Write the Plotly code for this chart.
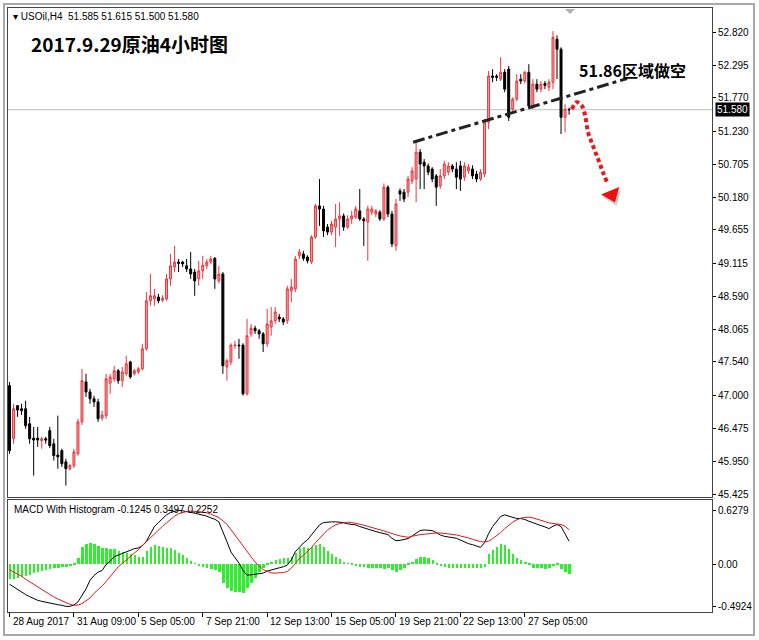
import plotly.graph_objects as go

W, H = 759, 640

# ---------------- data ----------------
opens = [47.16, 46.31, 46.84, 46.79, 46.79, 46.55, 46.32, 46.32, 46.28, 46.31,
         46.44, 46.23, 46.05, 46.12, 45.94, 45.83, 45.88, 46.07, 46.58, 47.22,
         47.06, 46.95, 46.90, 46.64, 46.68, 47.20, 47.27, 47.40, 47.24, 47.35,
         47.54, 47.35, 47.38, 47.43, 47.75, 48.52, 48.55, 48.58, 48.53, 48.55,
         48.87, 49.06, 49.14, 49.14, 49.08, 49.03, 48.98, 48.87, 49.00, 49.08,
         49.14, 49.20, 48.84, 48.95, 47.46, 47.54, 47.80, 47.81, 47.81, 47.03,
         47.99, 48.08, 48.04, 47.99, 47.83, 48.10, 48.20, 48.26, 48.23, 48.20,
         48.68, 48.71, 49.24, 49.27, 49.22, 49.14, 49.54, 50.04, 49.99, 49.70,
         49.62, 49.70, 49.83, 49.88, 49.70, 49.83, 49.86, 49.96, 49.83, 49.78,
         49.94, 49.91, 49.94, 49.83, 50.34, 49.91, 49.40, 50.28, 50.26, 50.26,
         50.44, 50.47, 50.90, 50.74, 50.68, 50.63, 50.52, 50.36, 50.52, 50.58,
         50.68, 50.63, 50.68, 50.50, 50.60, 50.63, 50.55, 50.47, 50.55, 51.38,
         52.12, 52.12, 52.07, 52.18, 52.23, 51.59, 51.75, 52.07, 52.04, 52.18,
         51.64, 51.99, 51.91, 52.00, 51.94, 52.02, 52.71, 52.55, 51.46, 51.585]
highs = [47.22, 46.87, 46.85, 46.87, 46.92, 46.66, 46.50, 46.50, 46.34, 46.34,
         46.50, 46.31, 46.68, 46.15, 45.99, 45.91, 46.15, 46.63, 47.43, 47.35,
         47.11, 47.00, 46.95, 46.76, 47.35, 47.35, 47.48, 47.43, 47.46, 47.64,
         47.56, 47.43, 47.46, 47.83, 48.66, 48.95, 48.71, 48.63, 48.61, 48.95,
         49.27, 49.40, 49.19, 49.16, 49.19, 49.30, 49.03, 49.16, 49.24, 49.19,
         49.24, 49.22, 49.08, 48.98, 47.59, 47.84, 47.88, 47.91, 47.84, 48.23,
         48.15, 48.12, 48.07, 48.02, 48.39, 48.42, 48.42, 48.31, 48.26, 48.76,
         48.87, 49.24, 49.35, 49.32, 49.25, 49.57, 50.07, 50.47, 50.04, 49.75,
         49.80, 50.07, 50.10, 49.92, 49.89, 49.96, 50.04, 50.31, 49.86, 50.04,
         50.04, 49.99, 49.97, 50.40, 50.37, 49.96, 50.15, 50.32, 50.31, 50.52,
         50.66, 51.06, 50.95, 50.79, 50.72, 50.66, 50.55, 50.63, 50.76, 50.74,
         50.71, 50.74, 50.76, 50.74, 50.71, 50.69, 50.60, 50.63, 51.43, 52.20,
         52.23, 52.15, 52.42, 52.23, 52.28, 51.78, 52.15, 52.15, 52.20, 52.31,
         52.07, 52.07, 52.04, 52.04, 52.07, 52.84, 52.77, 52.58, 51.67, 51.615]
lows = [46.07, 46.23, 46.66, 46.69, 46.47, 46.23, 45.72, 46.18, 46.15, 46.23,
        46.16, 45.96, 45.83, 45.86, 45.56, 45.80, 45.84, 46.04, 46.53, 46.98,
        46.87, 46.82, 46.58, 46.60, 46.63, 47.03, 47.22, 47.19, 47.14, 47.32,
        47.27, 47.32, 47.35, 47.40, 47.72, 48.44, 48.44, 48.48, 48.50, 48.52,
        48.76, 48.98, 48.98, 49.06, 48.98, 48.87, 48.60, 48.76, 48.87, 49.03,
        49.11, 48.71, 48.80, 47.35, 47.24, 47.49, 47.75, 47.59, 47.00, 47.00,
        47.94, 47.99, 47.91, 47.70, 47.78, 47.96, 48.15, 48.18, 48.13, 48.15,
        48.50, 48.66, 49.19, 49.16, 49.12, 49.11, 49.51, 49.72, 49.54, 49.57,
        49.57, 49.38, 49.56, 49.64, 49.67, 49.75, 49.83, 49.80, 49.40, 49.16,
        49.89, 49.86, 49.80, 49.80, 49.86, 49.38, 49.32, 50.12, 50.10, 50.18,
        50.39, 50.10, 50.31, 50.31, 50.53, 50.42, 50.04, 50.31, 50.47, 50.53,
        50.58, 50.31, 50.28, 50.44, 50.55, 50.47, 50.42, 50.44, 50.50, 51.27,
        52.02, 52.04, 52.04, 51.86, 51.40, 51.51, 51.72, 51.99, 52.00, 51.62,
        51.59, 51.86, 51.86, 51.91, 51.88, 51.91, 52.07, 51.19, 51.22, 51.500]
closes = [46.12, 46.79, 46.77, 46.76, 46.52, 46.31, 46.29, 46.29, 46.31, 46.29,
          46.20, 46.04, 46.02, 45.91, 45.83, 45.88, 46.10, 46.58, 47.24, 47.06,
          46.95, 46.90, 46.63, 46.69, 47.27, 47.30, 47.40, 47.24, 47.38, 47.51,
          47.30, 47.40, 47.43, 47.75, 48.52, 48.60, 48.60, 48.52, 48.56, 48.87,
          49.08, 49.14, 49.12, 49.11, 49.03, 48.95, 48.84, 49.00, 49.09, 49.14,
          49.19, 48.87, 48.95, 47.48, 47.56, 47.81, 47.81, 47.80, 47.03, 47.96,
          48.08, 48.04, 47.99, 47.83, 48.15, 48.20, 48.34, 48.23, 48.18, 48.71,
          48.74, 49.19, 49.30, 49.20, 49.16, 49.54, 50.04, 49.99, 49.64, 49.62,
          49.75, 49.83, 49.88, 49.70, 49.83, 49.88, 49.99, 49.83, 49.80, 49.99,
          49.99, 49.96, 49.83, 50.34, 49.91, 49.43, 50.07, 50.23, 50.15, 50.47,
          50.60, 50.90, 50.71, 50.68, 50.58, 50.47, 50.34, 50.52, 50.71, 50.68,
          50.63, 50.50, 50.47, 50.68, 50.66, 50.52, 50.47, 50.58, 51.38, 52.12,
          52.10, 52.10, 52.18, 51.91, 51.46, 51.75, 52.04, 52.04, 52.18, 51.64,
          51.99, 51.91, 51.99, 51.97, 52.02, 52.74, 52.55, 51.46, 51.59, 51.580]

macd_hist = [-0.176, -0.176, -0.172, -0.152, -0.145, -0.133, -0.105, -0.094, -0.086, -0.074,
             -0.066, -0.055, -0.047, -0.039, -0.035, -0.031, -0.008, 0.070, 0.195, 0.227,
             0.246, 0.234, 0.207, 0.180, 0.180, 0.176, 0.168, 0.148, 0.141, 0.129,
             0.117, 0.102, 0.078, 0.078, 0.148, 0.195, 0.215, 0.207, 0.195, 0.188,
             0.180, 0.156, 0.129, 0.102, 0.070, 0.031, 0.004, -0.027, -0.039, -0.055,
             -0.066, -0.078, -0.094, -0.223, -0.281, -0.320, -0.332, -0.332, -0.340, -0.281,
             -0.223, -0.164, -0.094, -0.047, -0.008, 0.023, 0.039, 0.059, 0.063, 0.063,
             0.080, 0.129, 0.188, 0.195, 0.188, 0.195, 0.215, 0.234, 0.195, 0.148,
             0.109, 0.078, 0.051, 0.023, 0.004, -0.016, -0.027, -0.035, -0.039, -0.047,
             -0.047, -0.047, -0.055, -0.063, -0.047, -0.078, -0.094, -0.078, -0.047, -0.016,
             0.012, 0.051, 0.078, 0.082, 0.070, 0.039, -0.008, -0.027, -0.039, -0.047,
             -0.047, -0.047, -0.047, -0.055, -0.055, -0.055, -0.055, -0.055, -0.039, 0.109,
             0.156, 0.195, 0.227, 0.219, 0.168, 0.109, 0.070, 0.039, 0.012, -0.016,
             -0.047, -0.055, -0.055, -0.063, -0.055, -0.027, -0.008, -0.066, -0.094, -0.1245]
macd_black = [-0.234, -0.266, -0.297, -0.324, -0.355, -0.379, -0.402, -0.422, -0.434, -0.445,
              -0.457, -0.465, -0.473, -0.480, -0.492, -0.4924, -0.477, -0.441, -0.359, -0.289,
              -0.188, -0.133, -0.094, -0.074, -0.004, 0.035, 0.086, 0.105, 0.129, 0.148,
              0.164, 0.180, 0.188, 0.215, 0.266, 0.352, 0.438, 0.484, 0.527, 0.574,
              0.602, 0.617, 0.6279, 0.621, 0.609, 0.602, 0.594, 0.582, 0.574, 0.559,
              0.539, 0.523, 0.492, 0.387, 0.262, 0.141, 0.078, 0.012, -0.074, -0.129,
              -0.125, -0.121, -0.117, -0.105, -0.082, -0.066, -0.051, -0.043, -0.031, -0.012,
              0.050, 0.145, 0.195, 0.246, 0.281, 0.340, 0.398, 0.457, 0.484, 0.492,
              0.492, 0.492, 0.492, 0.484, 0.469, 0.465, 0.457, 0.438, 0.422, 0.402,
              0.391, 0.379, 0.367, 0.355, 0.344, 0.301, 0.273, 0.277, 0.289, 0.297,
              0.328, 0.359, 0.391, 0.398, 0.398, 0.391, 0.367, 0.340, 0.324, 0.316,
              0.309, 0.301, 0.281, 0.258, 0.238, 0.227, 0.215, 0.195, 0.250, 0.355,
              0.438, 0.500, 0.555, 0.574, 0.559, 0.543, 0.531, 0.531, 0.520, 0.500,
              0.480, 0.465, 0.449, 0.434, 0.414, 0.441, 0.461, 0.438, 0.352, 0.266]
macd_red = [-0.066, -0.090, -0.113, -0.141, -0.176, -0.207, -0.234, -0.266, -0.293, -0.324,
            -0.352, -0.383, -0.406, -0.430, -0.449, -0.469, -0.480, -0.477, -0.461, -0.430,
            -0.395, -0.340, -0.301, -0.254, -0.203, -0.148, -0.090, -0.031, 0.008, 0.047,
            0.086, 0.125, 0.168, 0.215, 0.262, 0.309, 0.355, 0.402, 0.441, 0.480,
            0.523, 0.559, 0.586, 0.602, 0.613, 0.617, 0.617, 0.613, 0.605, 0.598,
            0.582, 0.566, 0.543, 0.504, 0.465, 0.402, 0.340, 0.277, 0.215, 0.156,
            0.094, 0.023, -0.020, -0.063, -0.082, -0.102, -0.105, -0.105, -0.098, -0.086,
            -0.047, 0.004, 0.066, 0.102, 0.145, 0.191, 0.250, 0.301, 0.352, 0.398,
            0.430, 0.457, 0.473, 0.484, 0.488, 0.484, 0.477, 0.465, 0.453, 0.441,
            0.430, 0.418, 0.402, 0.387, 0.371, 0.355, 0.340, 0.328, 0.320, 0.313,
            0.324, 0.336, 0.344, 0.348, 0.355, 0.359, 0.363, 0.363, 0.359, 0.355,
            0.348, 0.340, 0.328, 0.320, 0.305, 0.289, 0.273, 0.262, 0.258, 0.266,
            0.297, 0.332, 0.367, 0.414, 0.453, 0.488, 0.516, 0.535, 0.543, 0.547,
            0.539, 0.527, 0.512, 0.496, 0.480, 0.473, 0.465, 0.461, 0.440, 0.400]
macd_header_values = ["-0.1245", "0.3497", "0.2252"]

price_ticks = [52.820, 52.295, 51.770, 51.230, 50.705, 50.180, 49.655, 49.115,
               48.590, 48.065, 47.540, 47.000, 46.475, 45.950, 45.425]
macd_ticks = [0.6279, 0.0, -0.4924]
macd_tick_text = ["0.6279", "0.00", "-0.4924"]
time_tick_index = [0, 16, 32, 48, 64, 80, 96, 112, 128]
time_tick_labels = ["28 Aug 2017", "31 Aug 09:00", "5 Sep 05:00", "7 Sep 21:00",
                    "12 Sep 13:00", "15 Sep 05:00", "19 Sep 21:00", "22 Sep 13:00",
                    "27 Sep 05:00"]

trend_x = [100.25, 153.4]
trend_y = [51.06, 52.08]
arrow_x = [139.7, 140.9, 142.2, 143.0, 143.7, 145.0, 146.2, 147.4, 148.4]
arrow_y = [51.59, 51.70, 51.64, 51.48, 51.22, 50.99, 50.79, 50.58, 50.42]
arrow_head = (149.6, 50.22)

title_text = "2017.9.29原油4小时图"
note_text = "51.86区域做空"
symbol = "USOil,H4"

# ---------------- layout geometry ----------------
def px_x(p):
    return p / W

def px_y(p):
    return 1 - p / H

n = len(closes)
idx = list(range(n))
x_range = [-0.5, 174.5]
X_DOM = [px_x(7.5), px_x(712)]
Y1_DOM = [px_y(499), px_y(8)]
Y2_DOM = [px_y(614), px_y(502)]
AXC = "#444444"
FONT = "Liberation Sans, Arial, sans-serif"
CJK = "Noto Sans CJK SC, sans-serif"

fig = go.Figure()

fig.add_trace(go.Candlestick(
    x=idx, open=opens, high=highs, low=lows, close=closes,
    increasing=dict(line=dict(color="#e8383e", width=1), fillcolor="#f59a9c"),
    decreasing=dict(line=dict(color="#000000", width=1), fillcolor="#000000"),
    whiskerwidth=0, xaxis="x", yaxis="y", showlegend=False, hoverinfo="skip"))

# last price line
fig.add_shape(type="line", xref="x domain", x0=0, x1=1, yref="y",
              y0=closes[-1], y1=closes[-1], line=dict(color="#bdbdbd", width=1), layer="below")

# trend line
fig.add_trace(go.Scatter(x=trend_x, y=trend_y, mode="lines", xaxis="x", yaxis="y",
                         line=dict(color="#222222", width=3, dash="12px,4px,4px,4px"),
                         showlegend=False, hoverinfo="skip"))
# red dotted arrow
fig.add_trace(go.Scatter(x=arrow_x, y=arrow_y, mode="lines", xaxis="x", yaxis="y",
                         line=dict(color="#e51b1b", width=4, dash="4px,3px", shape="spline"),
                         showlegend=False, hoverinfo="skip"))
fig.add_trace(go.Scatter(x=[arrow_head[0] + 0.4], y=[arrow_head[1] - 0.05], mode="markers",
                         xaxis="x", yaxis="y",
                         marker=dict(symbol="triangle-down", size=17, angle=-22,
                                     color="rgba(120,120,120,0.35)", line=dict(width=0)),
                         showlegend=False, hoverinfo="skip"))
fig.add_trace(go.Scatter(x=[arrow_head[0]], y=[arrow_head[1]], mode="markers",
                         xaxis="x", yaxis="y",
                         marker=dict(symbol="triangle-down", size=17, angle=-22,
                                     color="#f01010", line=dict(width=0)),
                         showlegend=False, hoverinfo="skip"))

# MACD panel
fig.add_trace(go.Bar(x=idx, y=macd_hist, width=0.6, marker=dict(color="#2bf02b", line=dict(width=0)),
                     xaxis="x2", yaxis="y2", showlegend=False, hoverinfo="skip"))
fig.add_trace(go.Scatter(x=idx, y=macd_black, mode="lines", line=dict(color="#000000", width=1),
                         xaxis="x2", yaxis="y2", showlegend=False, hoverinfo="skip"))
fig.add_trace(go.Scatter(x=idx, y=macd_red, mode="lines", line=dict(color="#e01818", width=1),
                         xaxis="x2", yaxis="y2", showlegend=False, hoverinfo="skip"))

tick_font = dict(family=FONT, size=10, color="#000000")
fig.update_layout(
    width=W, height=H, margin=dict(l=0, r=0, t=0, b=0),
    paper_bgcolor="white", plot_bgcolor="white", showlegend=False, bargap=0,
    xaxis=dict(domain=X_DOM, anchor="y", range=x_range, showticklabels=False, ticks="",
               showgrid=False, zeroline=False, showline=True, mirror=True,
               linecolor=AXC, linewidth=1, rangeslider=dict(visible=False), fixedrange=True),
    yaxis=dict(domain=Y1_DOM, anchor="x", side="right", range=[45.37, 53.21],
               tickvals=price_ticks, ticktext=[f"{v:.3f}" for v in price_ticks],
               ticks="outside", ticklen=3, tickcolor="#000", tickfont=tick_font,
               showgrid=False, zeroline=False, showline=True, mirror=True,
               linecolor=AXC, linewidth=1, fixedrange=True),
    xaxis2=dict(domain=X_DOM, anchor="y2", range=x_range, showticklabels=False,
                tickvals=time_tick_index, ticks="outside", ticklen=4, tickcolor="#000",
                showgrid=False, zeroline=False, showline=True, mirror=True,
                linecolor=AXC, linewidth=1, fixedrange=True),
    yaxis2=dict(domain=Y2_DOM, anchor="x2", side="right", range=[-0.559, 0.742],
                tickvals=macd_ticks, ticktext=macd_tick_text, ticks="outside", ticklen=3,
                tickcolor="#000", tickfont=tick_font, showgrid=False, zeroline=False,
                showline=True, mirror=True, linecolor=AXC, linewidth=1, fixedrange=True),
)

ann = []
# time labels
for i, lab in zip(time_tick_index, time_tick_labels):
    ann.append(dict(x=i, xref="x2", y=px_y(623), yref="paper", text=lab, showarrow=False,
                    xanchor="left", yanchor="middle", xshift=1, font=tick_font))
# header
ann.append(dict(x=px_x(11), y=px_y(17), xref="paper", yref="paper", showarrow=False,
                xanchor="left", yanchor="middle",
                text=f"▾ {symbol}  {opens[-1]:.3f} {highs[-1]:.3f} {lows[-1]:.3f} {closes[-1]:.3f}",
                font=dict(family=FONT, size=10, color="#000")))
ann.append(dict(x=px_x(12), y=px_y(511), xref="paper", yref="paper", showarrow=False,
                xanchor="left", yanchor="middle",
                text="MACD With Histogram " + " ".join(macd_header_values),
                font=dict(family=FONT, size=10, color="#000")))
# title and note
ann.append(dict(x=px_x(29), y=px_y(44), xref="paper", yref="paper", showarrow=False,
                xanchor="left", yanchor="middle", text=title_text,
                font=dict(family=CJK, size=19, color="#000", weight=700)))
ann.append(dict(x=px_x(577), y=px_y(70), xref="paper", yref="paper", showarrow=False,
                xanchor="left", yanchor="middle", text=note_text,
                font=dict(family=CJK, size=16, color="#000", weight=700)))
# current price tag
ann.append(dict(x=px_x(715), y=closes[-1], xref="paper", yref="y", showarrow=False,
                xanchor="left", yanchor="middle", text=f"{closes[-1]:.3f}",
                bgcolor="#000000", borderpad=1, font=dict(family=FONT, size=10, color="#ffffff")))
fig.update_layout(annotations=ann)

# window frame and chart-shift marker
fig.add_shape(type="rect", xref="paper", yref="paper", x0=px_x(4), x1=px_x(754),
              y0=px_y(637), y1=px_y(4), line=dict(color="#a8a8a8", width=2), layer="below")
fig.add_shape(type="path", xref="paper", yref="paper",
              path=f"M {px_x(565)},{px_y(9)} L {px_x(575)},{px_y(9)} L {px_x(570)},{px_y(14)} Z",
              fillcolor="#b0b0b0", line=dict(width=0))

fig.write_html("out.html", config={"displayModeBar": False},
               post_script="document.body.style.margin='0';document.body.style.overflow='hidden';")
